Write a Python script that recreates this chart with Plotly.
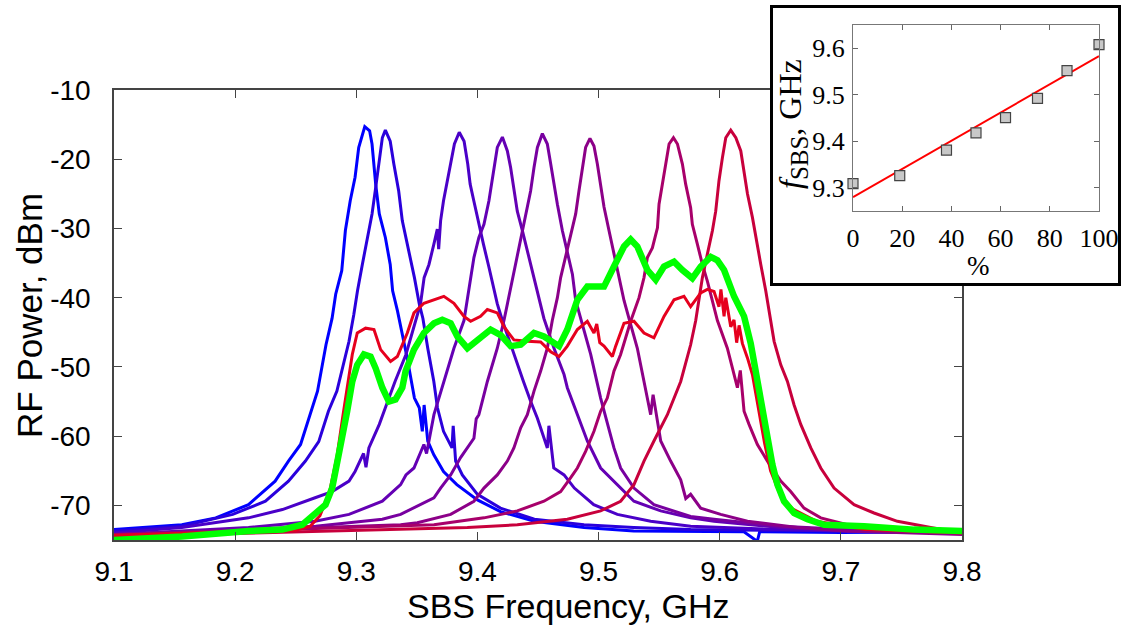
import plotly.graph_objects as go

# ---------------- data ----------------
p1_f = [9.100, 9.156, 9.184, 9.211, 9.233, 9.244, 9.254, 9.261, 9.268, 9.275, 9.280, 9.283, 9.288, 9.291, 9.295, 9.299, 9.302, 9.307, 9.311, 9.313, 9.316, 9.319, 9.324, 9.328, 9.330, 9.334, 9.337, 9.342, 9.348, 9.352, 9.3545, 9.356, 9.359, 9.364, 9.372, 9.383, 9.400, 9.419, 9.447, 9.488, 9.529, 9.576, 9.620, 9.631, 9.633, 9.700, 9.750, 9.800]
p1_p = [-73.5, -72.8, -71.8, -69.9, -66.5, -63.6, -61.2, -57.4, -53.5, -46.8, -43.0, -39.5, -36.1, -30.3, -26.0, -22.6, -18.3, -15.3, -15.9, -17.8, -23.6, -27.9, -31.3, -35.2, -39.0, -41.9, -44.5, -48.7, -54.5, -55.9, -59.3, -55.5, -60.7, -62.7, -65.1, -67.0, -69.2, -70.9, -72.3, -73.2, -73.7, -73.7, -73.8, -75.2, -73.8, -73.9, -73.8, -73.8]

p2_f = [9.100, 9.156, 9.198, 9.225, 9.244, 9.258, 9.269, 9.277, 9.284, 9.288, 9.294, 9.298, 9.301, 9.305, 9.309, 9.313, 9.316, 9.319, 9.3215, 9.324, 9.328, 9.331, 9.335, 9.338, 9.341, 9.348, 9.352, 9.355, 9.359, 9.364, 9.367, 9.372, 9.379, 9.380, 9.382, 9.3875, 9.400, 9.419, 9.447, 9.488, 9.529, 9.576, 9.650, 9.720, 9.800]
p2_p = [-73.7, -73.0, -71.3, -69.4, -66.5, -63.6, -60.8, -56.4, -53.5, -50.6, -46.3, -42.4, -39.0, -35.2, -31.3, -27.9, -24.1, -20.2, -16.9, -15.8, -17.4, -20.7, -24.6, -28.9, -31.3, -37.1, -40.9, -43.0, -47.3, -52.1, -55.9, -59.3, -61.7, -58.5, -63.6, -65.6, -68.4, -70.4, -72.0, -72.8, -73.2, -73.5, -73.6, -73.7, -73.7]

p3_f = [9.100, 9.156, 9.211, 9.239, 9.266, 9.280, 9.294, 9.299, 9.306, 9.308, 9.3104, 9.319, 9.324, 9.332, 9.341, 9.349, 9.353, 9.356, 9.360, 9.364, 9.3669, 9.368, 9.3696, 9.372, 9.375, 9.378, 9.381, 9.385, 9.389, 9.392, 9.394, 9.397, 9.401, 9.405, 9.4095, 9.412, 9.4164, 9.4206, 9.430, 9.438, 9.444, 9.4495, 9.4577, 9.459, 9.463, 9.4715, 9.480, 9.496, 9.5155, 9.543, 9.576, 9.650, 9.720, 9.800]
p3_p = [-74.0, -73.2, -71.8, -70.6, -68.9, -68.0, -66.5, -65.1, -62.5, -64.5, -61.7, -58.3, -55.9, -52.1, -48.2, -43.3, -40.9, -37.1, -35.2, -32.3, -30.1, -33.0, -28.9, -26.0, -23.1, -20.2, -17.8, -16.1, -17.4, -20.7, -23.6, -26.0, -29.4, -32.3, -35.6, -37.5, -40.9, -43.3, -48.2, -52.1, -55.0, -57.4, -61.7, -58.5, -64.6, -65.6, -67.5, -69.9, -71.3, -72.3, -73.0, -73.5, -73.8, -73.9]

p4_f = [9.100, 9.211, 9.266, 9.294, 9.3215, 9.3366, 9.341, 9.3476, 9.3558, 9.358, 9.3641, 9.3723, 9.3806, 9.3889, 9.3917, 9.3944, 9.3971, 9.4012, 9.4054, 9.4095, 9.4137, 9.4164, 9.4206, 9.4247, 9.4274, 9.4301, 9.4329, 9.4371, 9.4412, 9.4467, 9.4508, 9.4549, 9.4632, 9.4715, 9.4742, 9.4825, 9.4907, 9.5017, 9.5155, 9.5292, 9.5513, 9.576, 9.5953, 9.6504, 9.7054, 9.800]
p4_p = [-74.2, -73.2, -72.3, -71.3, -69.4, -67.0, -65.6, -64.6, -61.2, -62.5, -56.9, -52.1, -47.3, -43.3, -40.4, -37.1, -34.2, -31.3, -29.4, -26.0, -21.2, -18.3, -16.8, -18.8, -21.2, -24.6, -27.5, -30.3, -33.2, -37.1, -40.0, -43.0, -47.3, -51.1, -53.0, -56.9, -60.7, -64.6, -67.0, -69.4, -70.8, -71.8, -72.3, -73.2, -73.7, -74.0]

p5_f = [9.100, 9.1838, 9.2664, 9.3215, 9.3366, 9.3504, 9.3641, 9.3696, 9.3779, 9.3861, 9.3971, 9.399, 9.4012, 9.4082, 9.4164, 9.4219, 9.4247, 9.4288, 9.4329, 9.4371, 9.4406, 9.4439, 9.4467, 9.4495, 9.4536, 9.4577, 9.4605, 9.4632, 9.466, 9.4701, 9.4742, 9.4784, 9.4811, 9.4852, 9.4935, 9.5017, 9.5072, 9.5127, 9.5182, 9.5292, 9.5457, 9.5623, 9.576, 9.5953, 9.6504, 9.7054, 9.800]
p5_p = [-74.2, -73.7, -73.0, -72.0, -71.3, -70.1, -68.9, -67.5, -65.6, -63.1, -60.3, -57.5, -56.9, -52.1, -47.3, -43.3, -40.9, -37.6, -34.2, -30.8, -27.5, -24.6, -21.2, -18.3, -16.3, -17.8, -20.7, -23.6, -26.5, -30.3, -33.2, -36.6, -40.4, -43.0, -48.2, -54.5, -57.9, -61.7, -64.6, -67.5, -69.9, -70.8, -71.6, -72.0, -73.0, -73.5, -74.0]

p6_f = [9.100, 9.1838, 9.2664, 9.3366, 9.3504, 9.3779, 9.3971, 9.4054, 9.4164, 9.4247, 9.4301, 9.4357, 9.4412, 9.4467, 9.4522, 9.4577, 9.4618, 9.466, 9.4687, 9.4728, 9.477, 9.4811, 9.4838, 9.4866, 9.4893, 9.4929, 9.4962, 9.499, 9.5017, 9.5045, 9.5086, 9.5127, 9.5168, 9.521, 9.5251, 9.532, 9.5375, 9.543, 9.545, 9.5513, 9.5595, 9.5678, 9.572, 9.576, 9.5843, 9.6008, 9.6229, 9.6642, 9.7054, 9.800]
p6_p = [-74.2, -73.7, -73.2, -72.8, -72.5, -71.3, -69.4, -67.5, -65.6, -63.6, -61.7, -58.8, -56.9, -53.5, -50.6, -47.3, -43.3, -40.0, -37.1, -34.2, -30.8, -27.9, -24.6, -21.2, -18.3, -17.0, -18.1, -20.7, -24.1, -26.9, -30.3, -33.7, -37.1, -40.4, -43.0, -47.3, -52.1, -56.9, -54.0, -60.7, -63.6, -66.3, -69.0, -68.4, -70.4, -71.3, -72.3, -73.2, -73.7, -74.2]

p7_f = [9.100, 9.250, 9.3366, 9.3641, 9.4054, 9.4329, 9.4549, 9.4687, 9.477, 9.4825, 9.4893, 9.4962, 9.5017, 9.5072, 9.5127, 9.5182, 9.5265, 9.5334, 9.5375, 9.5403, 9.5444, 9.5486, 9.5499, 9.5527, 9.5554, 9.5582, 9.5618, 9.5651, 9.5692, 9.5719, 9.576, 9.5774, 9.5816, 9.5857, 9.5898, 9.594, 9.5981, 9.6063, 9.6104, 9.6146, 9.617, 9.6201, 9.6242, 9.6311, 9.6394, 9.6504, 9.6586, 9.6696, 9.6834, 9.7054, 9.7467, 9.800]
p7_p = [-74.3, -73.5, -73.0, -72.8, -71.8, -70.8, -69.4, -68.0, -66.0, -64.6, -62.2, -59.3, -56.4, -54.5, -50.6, -48.2, -43.4, -40.0, -37.1, -34.2, -32.8, -29.9, -26.5, -23.6, -20.7, -17.8, -16.9, -17.8, -20.7, -23.6, -27.0, -29.4, -32.3, -35.2, -37.6, -40.4, -43.3, -47.3, -50.2, -53.0, -50.5, -56.4, -58.3, -61.2, -63.6, -66.5, -68.0, -70.4, -71.8, -72.8, -73.5, -73.7]

p8_f = [9.100, 9.250, 9.3366, 9.3917, 9.4329, 9.4742, 9.5017, 9.5182, 9.5292, 9.5375, 9.5457, 9.5568, 9.5678, 9.576, 9.5802, 9.5829, 9.5857, 9.5898, 9.594, 9.5967, 9.5994, 9.6022, 9.605, 9.6091, 9.6133, 9.6174, 9.6201, 9.6229, 9.627, 9.6298, 9.6339, 9.638, 9.6415, 9.6449, 9.6504, 9.6559, 9.6614, 9.6669, 9.6752, 9.6834, 9.6944, 9.7109, 9.7274, 9.7467, 9.7742, 9.800]
p8_p = [-74.5, -73.8, -73.5, -73.2, -72.8, -72.0, -70.8, -69.4, -67.0, -63.6, -60.7, -56.9, -52.1, -46.8, -43.3, -40.0, -37.1, -33.7, -30.3, -27.5, -23.1, -19.8, -16.9, -15.8, -16.9, -18.8, -22.2, -25.0, -28.4, -31.3, -35.2, -39.0, -42.8, -46.3, -49.7, -52.1, -55.5, -58.3, -61.7, -64.6, -67.5, -69.9, -71.1, -72.3, -73.2, -74.0]

red_f = [9.100, 9.200, 9.250, 9.262, 9.270, 9.278, 9.284, 9.289, 9.2939, 9.2967, 9.3008, 9.3077, 9.3146, 9.3201, 9.3283, 9.3339, 9.3421, 9.3476, 9.3558, 9.3669, 9.3723, 9.3806, 9.3889, 9.3944, 9.4026, 9.4082, 9.4164, 9.4219, 9.4301, 9.4412, 9.4522, 9.4605, 9.4674, 9.4742, 9.4825, 9.4907, 9.4962, 9.4985, 9.5010, 9.5045, 9.5114, 9.5141, 9.521, 9.5292, 9.5375, 9.5457, 9.554, 9.5623, 9.5705, 9.576, 9.5843, 9.5898, 9.5953, 9.5994, 9.601, 9.6036, 9.605, 9.6091, 9.6118, 9.614, 9.616, 9.6187, 9.6229, 9.627, 9.632, 9.637, 9.642, 9.650, 9.660, 9.680, 9.720, 9.800]
red_p = [-74.3, -73.9, -73.6, -73.0, -71.5, -68.0, -63.0, -57.0, -51.6, -48.2, -45.1, -44.4, -44.6, -47.5, -49.2, -48.5, -45.1, -42.2, -40.8, -40.1, -39.8, -40.8, -42.7, -43.4, -42.7, -41.7, -42.2, -44.2, -46.1, -46.3, -46.4, -47.8, -48.5, -47.0, -44.6, -43.4, -45.1, -43.8, -46.5, -47.0, -48.5, -47.0, -43.7, -43.4, -45.1, -45.8, -42.7, -40.3, -39.8, -41.3, -39.3, -38.8, -39.1, -41.3, -38.8, -42.7, -40.0, -44.2, -43.2, -46.5, -44.0, -46.6, -48.7, -51.1, -56.0, -61.0, -65.0, -68.5, -70.5, -72.3, -73.5, -74.0]

green_f = [9.100, 9.1563, 9.2113, 9.2389, 9.2554, 9.2664, 9.2746, 9.2801, 9.2843, 9.2884, 9.2925, 9.2967, 9.3008, 9.3063, 9.3118, 9.316, 9.3215, 9.3269, 9.3324, 9.338, 9.3407, 9.3476, 9.3558, 9.3641, 9.371, 9.3779, 9.3834, 9.3917, 9.3999, 9.4109, 9.4192, 9.4274, 9.4357, 9.4467, 9.4549, 9.4674, 9.4742, 9.4825, 9.4907, 9.5045, 9.5127, 9.521, 9.5265, 9.532, 9.5403, 9.5472, 9.554, 9.5623, 9.5692, 9.5774, 9.5843, 9.5926, 9.5981, 9.6036, 9.6118, 9.6201, 9.6256, 9.6311, 9.6353, 9.6394, 9.6435, 9.6476, 9.6531, 9.6614, 9.6724, 9.6862, 9.7192, 9.7605, 9.800]
green_p = [-75.0, -74.5, -73.7, -73.5, -72.8, -71.3, -69.9, -67.5, -64.1, -60.3, -56.4, -52.1, -49.7, -48.2, -48.5, -50.2, -53.0, -55.0, -54.7, -53.0, -50.6, -47.5, -45.1, -43.7, -43.2, -43.7, -45.6, -47.3, -46.1, -44.6, -45.4, -47.0, -46.8, -45.1, -45.6, -47.0, -44.6, -40.3, -38.4, -38.4, -35.5, -32.6, -31.6, -32.6, -36.0, -37.4, -35.5, -34.8, -36.0, -37.2, -35.5, -34.1, -34.6, -36.0, -39.8, -42.7, -46.6, -51.8, -56.0, -60.7, -64.1, -67.0, -69.4, -71.1, -72.0, -72.8, -73.0, -73.5, -73.7]

# inset data
inset_pct = [0, 19, 38, 50, 62, 75, 87, 100]
inset_fsbs = [9.309, 9.326, 9.381, 9.418, 9.451, 9.492, 9.552, 9.608]
fit_pct = [0, 100]
fit_fsbs = [9.280, 9.583]

x_ticks = [9.1, 9.2, 9.3, 9.4, 9.5, 9.6, 9.7, 9.8]
y_ticks = [-70, -60, -50, -40, -30, -20, -10]
y_tick_labels = ["-70", "-60", "-50", "-40", "-30", "-20", "-10"]
inset_x_ticks = [0, 20, 40, 60, 80, 100]
inset_y_ticks = [9.3, 9.4, 9.5, 9.6]

# ---------------- styles ----------------
peak_colors = ["#0000ff", "#2a00dc", "#4a00c8", "#6400b4", "#7800a0", "#8c0088",
               "#a8006a", "#c8003c"]
red_color = "#e6001e"
green_color = "#00ff00"

W, H = 1121, 630


def px(xp):
    return xp / W


def py(yp):
    return 1 - yp / H


fig = go.Figure()

peaks = [(p1_f, p1_p), (p2_f, p2_p), (p3_f, p3_p), (p4_f, p4_p),
         (p5_f, p5_p), (p6_f, p6_p), (p7_f, p7_p), (p8_f, p8_p)]
for (f, p), c in zip(peaks, peak_colors):
    fig.add_trace(go.Scatter(x=f, y=p, mode="lines", line=dict(color=c, width=3),
                             showlegend=False, hoverinfo="skip"))
fig.add_trace(go.Scatter(x=red_f, y=red_p, mode="lines", line=dict(color=red_color, width=3),
                         showlegend=False, hoverinfo="skip"))
fig.add_trace(go.Scatter(x=green_f, y=green_p, mode="lines", line=dict(color=green_color, width=6.5),
                         showlegend=False, hoverinfo="skip"))

# white framed box behind the inset
fig.add_trace(go.Scatter(x=[0.5], y=[0.5], xaxis="x2", yaxis="y2", mode="markers",
                         marker=dict(opacity=0), showlegend=False, hoverinfo="skip"))
# inset
fig.add_trace(go.Scatter(x=fit_pct, y=fit_fsbs, mode="lines", xaxis="x3", yaxis="y3",
                         line=dict(color="#ff0000", width=2), showlegend=False))
fig.add_trace(go.Scatter(x=inset_pct, y=inset_fsbs, mode="markers", xaxis="x3", yaxis="y3",
                         marker=dict(symbol="square", size=10, color="#c8c8c8",
                                     line=dict(color="#444444", width=1.2)),
                         showlegend=False, cliponaxis=False))

axis_col = "#444444"
tickfont_main = dict(family="Arial, Liberation Sans, sans-serif", size=28, color="black")
tickfont_inset = dict(family="Times New Roman, Liberation Serif, serif", size=26, color="black")

fig.update_layout(
    width=W, height=H,
    margin=dict(l=0, r=0, t=0, b=0, autoexpand=False),
    paper_bgcolor="white", plot_bgcolor="white",
    xaxis=dict(domain=[px(114), px(962)], range=[9.1, 9.8], tickvals=x_ticks,
               ticktext=[f"{v:.1f}" for v in x_ticks],
               ticks="inside", ticklen=8, tickcolor=axis_col, tickwidth=1.3,
               showline=True, linecolor=axis_col, linewidth=1.5, mirror="ticks",
               showgrid=False, zeroline=False, tickfont=tickfont_main,
               ticklabelstandoff=6, anchor="y", automargin=False),
    yaxis=dict(domain=[py(540), py(90)], range=[-75, -10], tickvals=y_ticks,
               ticktext=y_tick_labels,
               ticks="inside", ticklen=8, tickcolor=axis_col, tickwidth=1.3,
               showline=True, linecolor=axis_col, linewidth=1.5, mirror="ticks",
               showgrid=False, zeroline=False, tickfont=tickfont_main,
               ticklabelstandoff=16, anchor="x", automargin=False),
    xaxis2=dict(domain=[px(773), px(1118)], range=[0, 1], anchor="y2",
                showline=True, linecolor="black", linewidth=2.5, mirror=True,
                showgrid=False, zeroline=False, showticklabels=False, ticks="",
                automargin=False),
    yaxis2=dict(domain=[py(283), py(8)], range=[0, 1], anchor="x2",
                showline=True, linecolor="black", linewidth=2.5, mirror=True,
                showgrid=False, zeroline=False, showticklabels=False, ticks="",
                automargin=False),
    xaxis3=dict(domain=[px(853), px(1099)], range=[0, 100], tickvals=inset_x_ticks, anchor="y3",
                ticks="inside", ticklen=5, tickcolor="#666666",
                showline=True, linecolor="#777777", linewidth=1.2, mirror="ticks",
                showgrid=False, zeroline=False, tickfont=tickfont_inset, ticklabelstandoff=4,
                automargin=False),
    yaxis3=dict(domain=[py(211), py(25)], range=[9.25, 9.65], tickvals=inset_y_ticks,
                ticktext=[f"{v:.1f}" for v in inset_y_ticks], anchor="x3",
                ticks="inside", ticklen=5, tickcolor="#666666",
                showline=True, linecolor="#777777", linewidth=1.2, mirror="ticks",
                showgrid=False, zeroline=False, tickfont=tickfont_inset, ticklabelstandoff=2,
                automargin=False),
    annotations=[
        dict(text="RF Power, dBm", x=px(29), y=py(316), xref="paper", yref="paper",
             textangle=-90, showarrow=False, xanchor="center", yanchor="middle",
             font=dict(family="Arial, Liberation Sans, sans-serif", size=35, color="black")),
        dict(text="SBS Frequency, GHz", x=px(568), y=py(606), xref="paper", yref="paper",
             showarrow=False, xanchor="center", yanchor="middle",
             font=dict(family="Arial, Liberation Sans, sans-serif", size=34, color="black")),
        dict(text="%", x=px(978), y=py(266), xref="paper", yref="paper",
             showarrow=False, xanchor="center", yanchor="middle",
             font=dict(family="Times New Roman, Liberation Serif, serif", size=27, color="black")),
        dict(text="<i>f</i><sub><span style='font-size:25px'>SBS</span></sub>, GHz",
             x=px(793), y=py(124), xref="paper", yref="paper",
             textangle=-90, showarrow=False, xanchor="center", yanchor="middle",
             font=dict(family="Times New Roman, Liberation Serif, serif", size=32, color="black")),
    ],
)

fig.write_html("out.html", config={"displayModeBar": False},
               post_script="document.body.style.margin='0';")
